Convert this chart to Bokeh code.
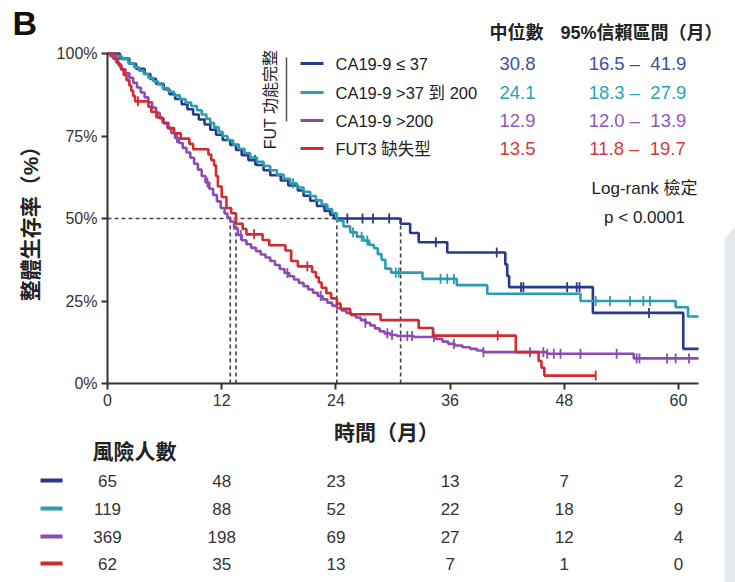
import numpy as np
from bokeh.plotting import figure
from bokeh.models import Range1d, FixedTicker, PrintfTickFormatter, LinearAxis
from bokeh.core.properties import value
from bokeh.embed import file_html
from bokeh.resources import INLINE

# ---------------- data ----------------
group_labels = ["CA19-9 ≤ 37", "CA19-9 >37 到 200", "CA19-9 >200", "FUT3 缺失型"]
line_colors = ["#28398a", "#2a9db3", "#8a4cb3", "#d22b2f"]
text_colors = ["#3b4ea6", "#2ba3b5", "#8f59b9", "#d23a40"]

medians = [30.8, 24.1, 12.9, 13.5]
ci_low = [16.5, 18.3, 12.0, 11.8]
ci_high = [41.9, 27.9, 13.9, 19.7]

# Kaplan-Meier step curves: time (months) and survival (%) after each event
blue_t = [0, 1.3, 2.3, 3.0, 3.9, 4.5, 5.1, 5.9, 6.5, 7.1, 7.8, 8.4, 9.0, 9.6, 10.2, 10.8,
          11.4, 12.1, 12.9, 13.5, 14.1, 14.8, 15.6, 16.4, 17.1, 18.2, 19.0, 20.0, 20.6,
          21.3, 22.0, 22.8, 23.4, 23.8, 30.8, 31.8, 32.7, 35.7, 41.8, 42.0, 42.2, 51.0,
          60.5, 62.1]
blue_s = [100, 98.5, 96.9, 95.4, 93.8, 92.3, 90.8, 89.2, 87.7, 86.2, 84.6, 83.1, 81.5, 80.0,
          78.5, 76.9, 75.4, 73.8, 72.3, 70.8, 69.2, 67.7, 66.2, 64.6, 63.1, 61.5, 60.0, 58.5,
          56.9, 55.4, 53.8, 52.3, 51.1, 50.0, 48.4, 45.6, 42.8, 39.7, 36.1, 32.6, 29.2, 21.4,
          10.5, 10.5]
blue_cens = [15.5, 25.2, 26.8, 27.9, 29.6, 34.5, 40.9, 43.45, 43.7, 48.3, 49.3, 49.6, 56.9]

teal_t = [0, 0.8, 1.5, 2.2, 2.8, 3.3, 3.8, 4.3, 4.8, 5.3, 5.8, 6.4, 7.0, 7.6, 8.2, 8.8, 9.4,
          9.9, 10.4, 10.8, 11.2, 11.7, 12.1, 12.6, 13.2, 13.8, 14.4, 15.0, 15.7, 16.4, 17.1,
          17.8, 18.5, 19.2, 19.9, 20.6, 21.3, 21.9, 22.5, 23.1, 23.6, 24.1, 24.8, 25.5, 26.2,
          26.9, 27.5, 28.0, 28.4, 28.8, 29.2, 29.8, 33.1, 36.7, 39.9, 49.7, 59.7, 61.0, 62.1]
teal_s = [100, 99.2, 98.3, 97.0, 95.8, 94.8, 93.8, 92.6, 91.6, 90.6, 89.5, 88.4, 87.3, 86.2,
          85.1, 84.1, 82.8, 81.5, 80.2, 78.9, 77.6, 76.3, 75.0, 73.7, 72.4, 71.1, 69.8, 68.5,
          67.2, 65.9, 64.6, 63.3, 62.0, 60.7, 59.4, 58.1, 56.8, 55.5, 54.2, 52.9, 51.6, 49.3,
          47.6, 45.8, 44.5, 43.3, 42.0, 41.0, 39.2, 37.5, 34.8, 33.6, 31.7, 29.8, 27.2, 25.0,
          23.1, 20.3, 20.3]
teal_cens = [19.5, 25.8, 26.7, 27.3, 30.3, 30.6, 35.0, 35.7, 36.4, 51.3, 52.8, 54.9, 56.3, 57.0]

purple_t = [0, 0.3, 0.6, 0.9, 1.2, 1.5, 1.9, 2.3, 2.7, 3.1, 3.5, 3.9, 4.3, 4.7, 5.1, 5.5, 5.9,
            6.3, 6.7, 7.1, 7.5, 7.9, 8.3, 8.7, 9.1, 9.5, 9.9, 10.3, 10.7, 11.1, 11.5, 11.9,
            12.3, 12.6, 12.9, 13.3, 13.7, 14.1, 14.6, 15.1, 15.6, 16.1, 16.6, 17.1, 17.6, 18.1,
            18.6, 19.1, 19.6, 20.1, 20.6, 21.1, 21.6, 22.1, 22.6, 23.1, 23.6, 24.1, 24.6, 25.1,
            25.6, 26.1, 26.6, 27.1, 27.6, 28.1, 28.6, 29.1, 29.7, 30.4, 32.2, 34.5, 35.2, 35.8,
            36.5, 37.3, 38.1, 38.8, 39.5, 46.2, 55.3, 62.1]
purple_s = [100, 99.2, 98.4, 97.3, 96.2, 95.2, 94.0, 92.6, 91.1, 89.7, 88.2, 86.7, 85.2, 83.6,
            82.0, 80.3, 78.8, 77.4, 75.9, 74.4, 72.9, 71.4, 70.0, 68.4, 66.6, 64.8, 62.9, 60.9,
            59.0, 57.1, 55.2, 53.2, 51.5, 50.3, 49.1, 47.0, 45.0, 43.4, 42.2, 41.1, 40.1, 39.1,
            38.2, 37.1, 35.9, 34.7, 33.5, 32.5, 31.5, 30.5, 29.5, 28.5, 27.5, 26.5, 25.5, 24.5,
            23.6, 22.8, 22.1, 21.4, 20.7, 20.0, 19.2, 18.4, 17.6, 16.7, 15.8, 15.2, 14.7, 14.4,
            14.1, 13.5, 12.7, 12.0, 11.5, 11.0, 10.5, 10.0, 9.5, 9.0, 7.6, 7.6]
purple_cens = [5.1, 7.3, 10.5, 14.0, 18.9, 22.4, 27.1, 29.4, 29.9, 31.5, 32.0, 34.3, 36.4, 39.5,
               44.4, 45.8, 46.2, 46.9, 47.6, 49.7, 53.5, 55.6, 55.9, 58.8, 59.7, 61.1]

red_t = [0, 0.8, 1.1, 1.4, 1.7, 2.0, 2.3, 2.5, 2.7, 2.9, 4.3, 4.6, 5.2, 5.8, 6.4, 7.0, 7.7,
         8.6, 9.0, 10.6, 10.9, 11.2, 11.4, 11.6, 12.0, 12.5, 13.0, 13.5, 14.2, 14.6, 16.3,
         17.0, 18.7, 19.3, 20.0, 21.5, 21.9, 22.2, 22.5, 23.0, 23.5, 24.1, 24.5, 25.5, 28.7,
         32.7, 34.2, 42.9, 45.3, 45.6, 45.9, 51.3]
red_s = [100, 98.4, 96.8, 95.2, 93.5, 91.9, 90.3, 88.7, 87.1, 85.5, 83.9, 82.3, 80.6, 79.0,
         77.4, 75.8, 74.2, 72.6, 71.0, 69.4, 67.7, 66.1, 62.9, 59.7, 56.5, 53.2, 51.6, 48.4,
         46.8, 45.2, 43.5, 41.9, 40.3, 37.1, 35.5, 33.8, 32.2, 30.6, 29.0, 27.4, 25.8, 24.2,
         22.6, 21.0, 19.2, 16.8, 14.5, 9.5, 6.8, 4.8, 2.4, 2.4]
red_cens = [3.2, 15.4, 21.0, 41.0, 51.3]

curves_t = [blue_t, teal_t, purple_t, red_t]
curves_s = [blue_s, teal_s, purple_s, red_s]
censored = [blue_cens, teal_cens, purple_cens, red_cens]

# numbers at risk
risk_times = [0, 12, 24, 36, 48, 60]
risk_blue = [65, 48, 23, 13, 7, 2]
risk_teal = [119, 88, 52, 22, 18, 9]
risk_purple = [369, 198, 69, 27, 12, 4]
risk_red = [62, 35, 13, 7, 1, 0]
risk_rows = [risk_blue, risk_teal, risk_purple, risk_red]

x_ticks = [0, 12, 24, 36, 48, 60]
y_ticks = [0, 25, 50, 75, 100]

# ---------------- page geometry (pixels) ----------------
W, H = 735, 582
ORIGIN_X = 107            # pixel column of month 0
ORIGIN_Y = 383            # pixel row of 0 %
AXIS_END = 62.1           # last month on the time axis
AXIS_END_PX = 698
PX_PER_MONTH = (AXIS_END_PX - ORIGIN_X) / AXIS_END
PX_PER_PCT = 3.3


def tx(px):
    """pixel column -> months"""
    return (px - ORIGIN_X) / PX_PER_MONTH


def vy(py):
    """pixel row -> percent"""
    return (ORIGIN_Y - py) / PX_PER_PCT


SANS = "Liberation Sans, Noto Sans CJK TC"
DARK = "#222222"

p = figure(width=W, height=H, output_backend="svg", toolbar_location=None, title=None,
           x_range=Range1d(tx(0), tx(W)), y_range=Range1d(vy(H), vy(0)),
           x_axis_type=None, y_axis_type=None, min_border=0)
p.outline_line_color = None
p.background_fill_color = "white"
p.border_fill_color = "white"

# pale page edge on the right
p.patch(x=[tx(724), tx(W), tx(W), tx(724)], y=[vy(H), vy(H), vy(226), vy(238)],
        fill_color="#e4e9ef", line_color=None, level="underlay")

# axes anchored at the origin
xaxis = LinearAxis(fixed_location=0, ticker=FixedTicker(ticks=x_ticks), bounds=(0, AXIS_END))
yaxis = LinearAxis(fixed_location=0, ticker=FixedTicker(ticks=y_ticks), bounds=(0, 100),
                   formatter=PrintfTickFormatter(format="%d%%"))
for ax in (xaxis, yaxis):
    ax.axis_line_width = 2
    ax.axis_line_color = "#333333"
    ax.major_tick_line_width = 2
    ax.major_tick_line_color = "#333333"
    ax.major_tick_out = 6
    ax.major_tick_in = 0
    ax.minor_tick_line_color = None
    ax.major_label_text_font = SANS
    ax.major_label_text_font_size = "16px"
    ax.major_label_text_color = "#333333"
    ax.major_label_standoff = 4
p.add_layout(xaxis, "below")
p.add_layout(yaxis, "left")

# median guide lines
p.segment(x0=0, y0=50, x1=max(medians), y1=50, line_color="#444444",
          line_width=1.6, line_dash="4 3")
p.segment(x0=medians, y0=[0] * 4, x1=medians, y1=[50] * 4, line_color="#444444",
          line_width=1.6, line_dash="4 3")

# curves and censoring marks
for t, s, c, col in zip(curves_t, curves_s, censored, line_colors):
    p.step(x=t, y=s, mode="after", line_color=col, line_width=2.6)
    ta = np.array(t)
    sa = np.array(s)
    idx = np.searchsorted(ta, np.array(c), side="right") - 1
    p.scatter(x=c, y=sa[idx], marker="dash", angle=np.pi / 2, size=10,
              line_color=col, line_width=1.8)

# legend block
row_y = [vy(63), vy(92), vy(120), vy(148)]
p.segment(x0=[tx(300)] * 4, y0=row_y, x1=[tx(323)] * 4, y1=row_y,
          line_color=line_colors, line_width=3)
p.text(x=[tx(335)] * 4, y=row_y, text=group_labels, text_font=value(SANS),
       text_font_size="16.5px", text_color=DARK, text_align="left", text_baseline="middle")
p.segment(x0=tx(286), y0=vy(57), x1=tx(286), y1=vy(121), line_color="#555555", line_width=1.5)
p.text(x=[tx(270)], y=[vy(99)], text=["FUT 功能完整"], angle=np.pi / 2,
       text_font=value(SANS), text_font_size="16px", text_color=DARK,
       text_align="center", text_baseline="middle")

# median and CI columns
p.text(x=[tx(516), tx(641)], y=[vy(32)] * 2, text=["中位數", "95%信賴區間（月）"],
       text_font=value(SANS), text_font_size="18px", text_font_style="bold",
       text_color=DARK, text_align="center", text_baseline="middle")
p.text(x=[tx(517)] * 4, y=row_y, text=[f"{m:.1f}" for m in medians],
       text_font=value(SANS), text_font_size="18.5px", text_color=text_colors,
       text_align="center", text_baseline="middle")
ci_text = [f"{lo:.1f} –\u00a0\u00a0{hi:.1f}" for lo, hi in zip(ci_low, ci_high)]
p.text(x=[tx(637)] * 4, y=row_y, text=ci_text,
       text_font=value(SANS), text_font_size="18.5px", text_color=text_colors,
       text_align="center", text_baseline="middle")

p.text(x=[tx(644), tx(644)], y=[vy(188), vy(217)], text=["Log-rank 檢定", "p < 0.0001"],
       text_font=value(SANS), text_font_size="17px", text_color=DARK,
       text_align="center", text_baseline="middle")

# panel letter and axis titles
p.text(x=[tx(12)], y=[vy(22)], text=["B"], text_font=value(SANS), text_font_size="34px",
       text_font_style="bold", text_color="#111111", text_align="left", text_baseline="middle")
p.text(x=[tx(30)], y=[50], text=["整體生存率（%）"], angle=np.pi / 2, text_font=value(SANS),
       text_font_size="21px", text_font_style="bold", text_color=DARK,
       text_align="center", text_baseline="middle")
p.text(x=[tx(386)], y=[vy(432)], text=["時間（月）"], text_font=value(SANS),
       text_font_size="21px", text_font_style="bold", text_color=DARK,
       text_align="center", text_baseline="middle")

# numbers-at-risk table
p.text(x=[tx(92)], y=[vy(451)], text=["風險人數"], text_font=value(SANS),
       text_font_size="21px", text_font_style="bold", text_color=DARK,
       text_align="left", text_baseline="middle")
table_rows_px = [480, 508, 536, 563]
for vals, col, rpx in zip(risk_rows, line_colors, table_rows_px):
    p.segment(x0=tx(40), y0=vy(rpx), x1=tx(62), y1=vy(rpx), line_color=col, line_width=4)
    p.text(x=risk_times, y=[vy(rpx)] * len(vals), text=[str(v) for v in vals],
           text_font=value("Liberation Sans Narrow, Liberation Sans"), text_font_size="17px",
           text_color="#333333", text_align="center", text_baseline="middle")

open("out.html", "w").write(file_html(p, INLINE))
